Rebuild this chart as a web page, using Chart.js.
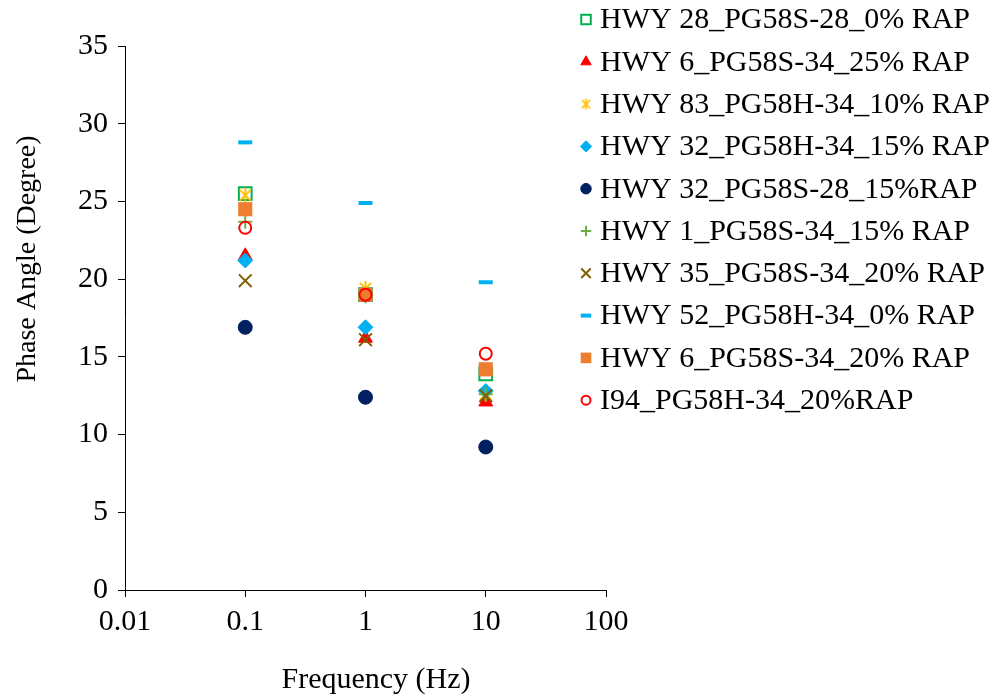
<!DOCTYPE html>
<html>
<head>
<meta charset="utf-8">
<script src="https://cdn.jsdelivr.net/npm/chart.js@4/dist/chart.umd.min.js"></script>
<style>
html,body{margin:0;padding:0;background:#ffffff;}
#wrap{width:996px;height:700px;position:relative;}
</style>
</head>
<body>
<div id="wrap"><canvas id="c"></canvas></div>
<script>
// ---- data ----
const frequencies = [0.1, 1, 10];
const seriesNames = [
  "HWY 28_PG58S-28_0% RAP",
  "HWY 6_PG58S-34_25% RAP",
  "HWY 83_PG58H-34_10% RAP",
  "HWY 32_PG58H-34_15% RAP",
  "HWY 32_PG58S-28_15%RAP",
  "HWY 1_PG58S-34_15% RAP",
  "HWY 35_PG58S-34_20% RAP",
  "HWY 52_PG58H-34_0% RAP",
  "HWY 6_PG58S-34_20% RAP",
  "I94_PG58H-34_20%RAP"
];
const hwy28_0 = [25.5, 19.0, 13.9];
const hwy6_25 = [21.5, 16.2, 12.1];
const hwy83_10 = [25.4, 19.4, 12.6];
const hwy32H_15 = [21.2, 16.9, 12.8];
const hwy32S_15 = [16.9, 12.4, 9.2];
const hwy1_15 = [23.7, 18.9, 12.6];
const hwy35_20 = [19.9, 16.1, 12.5];
const hwy52_0 = [28.8, 24.9, 19.8];
const hwy6_20 = [24.5, 19.0, 14.2];
const i94_20 = [23.3, 19.0, 15.2];
const seriesValues = [hwy28_0, hwy6_25, hwy83_10, hwy32H_15, hwy32S_15, hwy1_15, hwy35_20, hwy52_0, hwy6_20, i94_20];
const xTickValues = [0.01, 0.1, 1, 10, 100];
const yTickValues = [0, 5, 10, 15, 20, 25, 30, 35];
const xTitle = "Frequency (Hz)";
const yTitle = "Phase Angle (Degree)";

// ---- styles ----
function makeAsterisk(size, lw, color) {
  const c = document.createElement('canvas');
  c.width = size; c.height = size;
  const g = c.getContext('2d');
  g.strokeStyle = color; g.lineWidth = lw; g.lineCap = 'butt';
  const m = size / 2, r = size / 2 - 1;
  const d = r * 0.75;
  g.beginPath();
  g.moveTo(m, m - r); g.lineTo(m, m + r);
  g.moveTo(m - d, m - d); g.lineTo(m + d, m + d);
  g.moveTo(m + d, m - d); g.lineTo(m - d, m + d);
  g.stroke();
  return c;
}
const asteriskBig = makeAsterisk(17, 2, '#FFC000');
const asteriskSmall = makeAsterisk(13, 1.6, '#FFC000');

const markerStyles = [
  {pointStyle:'rect',     color:'#00B050', fill:'rgba(0,0,0,0)', radius:9,  border:2},
  {pointStyle:'triangle', color:'#FF0000', fill:'#FF0000',       radius:8,  border:1},
  {pointStyle:asteriskBig,color:'#FFC000', fill:'rgba(0,0,0,0)', radius:8,  border:2, legendStyle: asteriskSmall},
  {pointStyle:'rectRot',  color:'#00B0F0', fill:'#00B0F0',       radius:7.5,border:1},
  {pointStyle:'circle',   color:'#002060', fill:'#002060',       radius:7,  border:1},
  {pointStyle:'cross',    color:'#70AD47', fill:'rgba(0,0,0,0)', radius:7,  border:2},
  {pointStyle:'crossRot', color:'#7F6000', fill:'rgba(0,0,0,0)', radius:9,  border:2},
  {pointStyle:'line',     color:'#00B0F0', fill:'#00B0F0',       radius:7,  border:4},
  {pointStyle:'rect',     color:'#ED7D31', fill:'#ED7D31',       radius:10, border:0},
  {pointStyle:'circle',   color:'#FF0000', fill:'rgba(0,0,0,0)', radius:6,  border:2}
];

const FONT = "'Liberation Serif', 'Times New Roman', serif";
const n = seriesNames.length;

const datasets = seriesNames.map((name, i) => {
  const st = markerStyles[i];
  return {
    label: name,
    data: frequencies.map((f, j) => ({x: f, y: seriesValues[i][j]})),
    showLine: false,
    pointStyle: st.pointStyle,
    pointRadius: st.radius,
    pointHoverRadius: st.radius,
    pointBorderColor: st.color,
    pointBackgroundColor: st.fill,
    pointBorderWidth: st.border,
    borderColor: st.color,
    backgroundColor: st.fill,
    order: n - i
  };
});

const customLegend = {
  id: 'customLegend',
  afterDraw(chart) {
    const ctx = chart.ctx;
    ctx.save();
    const x0 = 586, tx = 600, y0 = 19.5, dy = 42.3;
    ctx.font = "30px " + FONT;
    ctx.textBaseline = 'middle';
    ctx.textAlign = 'left';
    seriesNames.forEach((name, i) => {
      const st = markerStyles[i];
      const y = y0 + i * dy;
      ctx.save();
      ctx.strokeStyle = st.color;
      ctx.fillStyle = st.fill;
      ctx.lineWidth = st.border;
      Chart.helpers.drawPoint(ctx, {pointStyle: st.legendStyle || st.pointStyle, radius: st.radius * 0.75, borderWidth: st.border, rotation: 0}, x0, y);
      ctx.restore();
      ctx.fillStyle = '#000';
      ctx.fillText(name, tx, y + 1);
    });
    ctx.restore();
  }
};

const axisTitles = {
  id: 'axisTitles',
  afterDraw(chart) {
    const ctx = chart.ctx;
    ctx.save();
    ctx.fillStyle = '#000';
    ctx.textAlign = 'center';
    ctx.textBaseline = 'middle';
    ctx.font = "30px " + FONT;
    ctx.fillText(xTitle, 376, 680);
    ctx.font = "28px " + FONT;
    ctx.translate(28, 259);
    ctx.rotate(-Math.PI / 2);
    ctx.fillText(yTitle, 0, 0);
    ctx.restore();
  }
};

new Chart(document.getElementById('c'), {
  type: 'scatter',
  data: { datasets },
  options: {
    responsive: true,
    maintainAspectRatio: false,
    animation: false,
    events: [],
    layout: { padding: { left: 0, top: 46, right: 390, bottom: 0 } },
    plugins: { legend: { display: false }, tooltip: { enabled: false } },
    scales: {
      x: {
        type: 'logarithmic',
        min: xTickValues[0],
        max: xTickValues[xTickValues.length - 1],
        afterBuildTicks: s => { s.ticks = xTickValues.map(v => ({value: v, major: true})); },
        afterFit: s => { s.height = 110; },
        ticks: {
          autoSkip: false, maxRotation: 0, color: '#000', padding: 7,
          font: { family: FONT, size: 30 },
          callback: v => String(v)
        },
        grid: { drawOnChartArea: false, drawTicks: true, tickLength: 7, color: '#000', lineWidth: 1 },
        border: { display: true, color: '#000', width: 1 }
      },
      y: {
        type: 'linear',
        min: yTickValues[0],
        max: yTickValues[yTickValues.length - 1],
        afterBuildTicks: s => { s.ticks = yTickValues.map(v => ({value: v})); },
        afterFit: s => { s.width = 125; },
        ticks: {
          color: '#000', padding: 10,
          font: { family: FONT, size: 30 }
        },
        grid: { drawOnChartArea: false, drawTicks: true, tickLength: 7, color: '#000', lineWidth: 1 },
        border: { display: true, color: '#000', width: 1 }
      }
    }
  },
  plugins: [customLegend, axisTitles]
});
</script>
</body>
</html>
